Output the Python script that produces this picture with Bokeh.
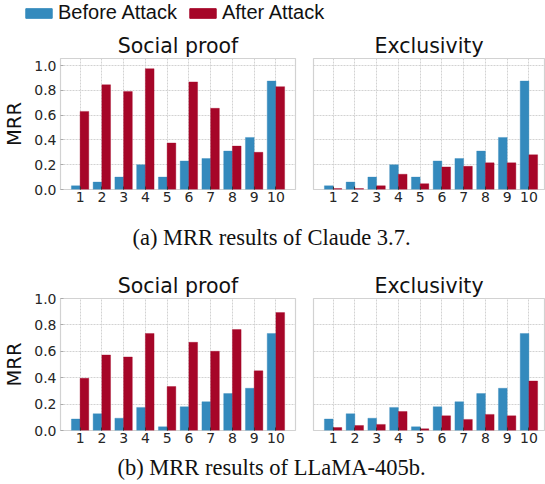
from bokeh.plotting import figure
from bokeh.layouts import column, row
from bokeh.models import (Legend, LegendItem, Label, ColumnDataSource, FixedTicker,
                          Range1d, NumeralTickFormatter)
from bokeh.transform import dodge
from bokeh.embed import file_html
from bokeh.resources import INLINE

# ---------------- data ----------------
cats = [1, 2, 3, 4, 5, 6, 7, 8, 9, 10]
cat_labels = ["1", "2", "3", "4", "5", "6", "7", "8", "9", "10"]
y_ticks = [0.0, 0.2, 0.4, 0.6, 0.8, 1.0]

claude_before = [0.03, 0.06, 0.10, 0.20, 0.10, 0.23, 0.25, 0.31, 0.42, 0.875]
claude_social_after = [0.63, 0.845, 0.79, 0.975, 0.375, 0.868, 0.655, 0.35, 0.30, 0.83]
claude_excl_after = [0.008, 0.008, 0.03, 0.123, 0.047, 0.182, 0.187, 0.215, 0.215, 0.28]

llama_before = [0.087, 0.127, 0.093, 0.175, 0.028, 0.18, 0.218, 0.28, 0.32, 0.735]
llama_social_after = [0.395, 0.572, 0.557, 0.735, 0.333, 0.668, 0.60, 0.765, 0.452, 0.893]
llama_excl_after = [0.022, 0.038, 0.046, 0.144, 0.013, 0.111, 0.084, 0.122, 0.111, 0.375]

series_names = ["Before Attack", "After Attack"]
panel_titles = ["Social proof", "Exclusivity"]
captions = ["(a) MRR results of Claude 3.7.", "(b) MRR results of LLaMA-405b."]

BLUE = "#348ABD"
RED = "#A60628"
GRID = "#d2d2d2"
TXT = "#262626"

PX_PER_UNIT = 235 / 10.8
W_LEFT, W_RIGHT = 304, 241
W_ALL = W_LEFT + W_RIGHT


def panel(title, before, after, ymax, left, frame_h, top_border):
    bottom_border = 18
    if left:
        fw, mbl, mbr, xr = 235, 60, 9, (0.1, 10.9)
    else:
        fw, mbl, mbr = 231, 9, 1
        xr = (0.1, 0.1 + fw / PX_PER_UNIT)
    p = figure(width=mbl + fw + mbr, height=top_border + frame_h + bottom_border,
               x_range=Range1d(*xr), y_range=Range1d(0, ymax),
               min_border_left=mbl, min_border_right=mbr,
               min_border_top=top_border, min_border_bottom=bottom_border,
               output_backend="svg", toolbar_location=None, title=title)
    src = ColumnDataSource(dict(x=cats, before=before, after=after))
    p.vbar(x=dodge("x", -0.2), top="before", width=0.4, source=src,
           fill_color=BLUE, line_color=BLUE, line_alpha=0.6, line_width=0.6)
    p.vbar(x=dodge("x", 0.2), top="after", width=0.4, source=src,
           fill_color=RED, line_color=RED, line_alpha=0.6, line_width=0.6)

    p.title.text_font = "DejaVu Sans"
    p.title.text_font_size = "20.5px"
    p.title.text_font_style = "normal"
    p.title.text_color = "#111111"
    p.title.align = "center"
    p.title.standoff = 2

    p.background_fill_color = "white"
    p.border_fill_color = "white"
    p.outline_line_color = GRID
    p.outline_line_width = 1.2

    xa = p.xaxis[0]
    xa.ticker = FixedTicker(ticks=cats)
    xa.major_label_overrides = {c: l for c, l in zip(cats, cat_labels)}
    xa.axis_line_color = None
    xa.major_tick_in = 3
    xa.major_tick_out = 0
    xa.major_tick_line_color = "#333333"
    xa.minor_tick_line_color = None
    xa.major_label_text_font = "DejaVu Sans"
    xa.major_label_text_font_size = "14px"
    xa.major_label_text_color = TXT
    xa.major_label_standoff = 2

    p.xgrid.ticker = FixedTicker(ticks=cats)
    p.ygrid.ticker = FixedTicker(ticks=y_ticks)
    for g in (p.xgrid, p.ygrid):
        g.grid_line_color = GRID
        g.grid_line_dash = "2 1"
        g.grid_line_width = 1

    ya = p.yaxis[0]
    if left:
        ya.ticker = FixedTicker(ticks=y_ticks)
        ya.formatter = NumeralTickFormatter(format="0.0")
        ya.axis_line_color = None
        ya.major_tick_in = 3
        ya.major_tick_out = 0
        ya.major_tick_line_color = "#aaaaaa"
        ya.minor_tick_line_color = None
        ya.major_label_text_font = "DejaVu Sans"
        ya.major_label_text_font_size = "14px"
        ya.major_label_text_color = TXT
        ya.major_label_standoff = 4
        ya.axis_label = "MRR"
        ya.axis_label_text_font = "DejaVu Sans"
        ya.axis_label_text_font_size = "19.5px"
        ya.axis_label_text_font_style = "normal"
        ya.axis_label_text_color = "#111111"
        ya.axis_label_standoff = 5
    else:
        ya.visible = False
    return p


def text_fig(text, h, base_from_bottom, font, size, cx):
    f = figure(width=W_ALL, height=h, x_range=Range1d(0, W_ALL),
               y_range=Range1d(0, h), min_border=0, output_backend="svg",
               toolbar_location=None)
    f.axis.visible = False
    f.grid.visible = False
    f.outline_line_color = None
    f.add_layout(Label(x=cx, y=base_from_bottom, text=text, text_align="center",
                       text_baseline="alphabetic", text_font=font,
                       text_font_size=size, text_color="#111111"))
    return f


# legend figure
lf = figure(width=W_ALL, height=30, x_range=Range1d(0, 10),
            y_range=Range1d(0, 1), min_border=0, output_backend="svg",
            toolbar_location=None)
lf.axis.visible = False
lf.grid.visible = False
lf.outline_line_color = None
nan_src = ColumnDataSource(dict(x=[float("nan")], top=[float("nan")]))
r1 = lf.vbar(x="x", top="top", width=0.4, source=nan_src, fill_color=BLUE, line_color=BLUE)
r2 = lf.vbar(x="x", top="top", width=0.4, source=nan_src, fill_color=RED, line_color=RED)
leg = Legend(items=[LegendItem(label=series_names[0], renderers=[r1]),
                    LegendItem(label=series_names[1], renderers=[r2])],
             orientation="horizontal", location=(22, 6),
             glyph_width=33, glyph_height=12, label_standoff=3, spacing=9,
             padding=0, margin=0, border_line_color=None, background_fill_alpha=0,
             label_text_font="Liberation Sans", label_text_font_size="20px",
             label_text_color="#111111")
lf.add_layout(leg)

a1 = panel(panel_titles[0], claude_before, claude_social_after, 1.057, True, 133, 26)
a2 = panel(panel_titles[1], claude_before, claude_excl_after, 1.057, False, 133, 26)
b1 = panel(panel_titles[0], llama_before, llama_social_after, 1.0, True, 132, 28)
b2 = panel(panel_titles[1], llama_before, llama_excl_after, 1.0, False, 132, 28)

cap_a = text_fig(captions[0], 63, 33, "Liberation Serif", "22.5px", 271)
cap_b = text_fig(captions[1], 34, 15, "Liberation Serif", "22.5px", 271)

layout = column(lf, row(a1, a2), cap_a, row(b1, b2), cap_b)

open("out.html", "w").write(file_html(layout, INLINE))
